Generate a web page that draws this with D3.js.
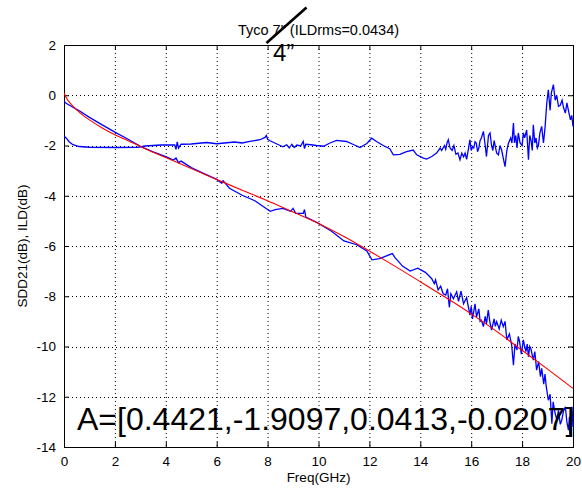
<!DOCTYPE html>
<html><head><meta charset="utf-8">
<script src="https://cdn.jsdelivr.net/npm/d3@7"></script>
<style>
body{margin:0;background:#fff;}
svg{display:block;font-family:"Liberation Sans",Arial,sans-serif;}
</style></head>
<body><svg id="c" width="582" height="488"></svg>
<script>
// ---- data ----
const titleText = 'Tyco 7" (ILDrms=0.0434)';
const overText = '4\u201D';
const fitLabel = 'A=[0.4421,-1.9097,0.0413,-0.0207]';
const xLabel = 'Freq(GHz)';
const yLabel = 'SDD21(dB), ILD(dB)';
const xTicks = [0,2,4,6,8,10,12,14,16,18,20];
const yTicks = [2,0,-2,-4,-6,-8,-10,-12,-14];

const fitFreq = [0,0.1,0.25,0.5,0.75,1,1.5,2,2.5,3,4,5,6,7,8,9,10,11,12,13,14,15,16,17,18,19,20];
const fitVal  = [0.1,-0.12,-0.32,-0.58,-0.8,-0.98,-1.3,-1.57,-1.8,-2.04,-2.48,-2.92,-3.35,-3.78,-4.2,-4.65,-5.1,-5.62,-6.2,-6.8,-7.42,-8.05,-8.7,-9.4,-10.15,-10.9,-11.67];

const sddFreq = [0,0.1,0.3,0.6,1.0,1.5,2.0,2.5,3.0,3.5,4.0,4.3,4.4,4.5,4.6,5.0,5.5,6.0,6.2,6.25,6.5,7.0,7.5,8.0,8.1,8.3,8.6,8.9,9.0,9.1,9.4,9.45,9.5,10.0,10.5,11.0,11.5,11.9,12.1,12.4,12.9,13.0,13.3,13.6,13.9,14.2,14.45,14.55,14.6,14.7,14.8,14.9,15.0,15.07,15.14,15.2,15.3,15.43,15.5,15.6,15.7,15.82,15.95,16.0,16.05,16.1,16.15,16.21,16.3,16.35,16.4,16.48,16.55,16.6,16.67,16.73,16.8,16.9,16.95,17.0,17.1,17.18,17.26,17.33,17.4,17.5,17.59,17.66,17.72,17.8,17.85,17.9,17.97,18.05,18.1,18.15,18.2,18.25,18.3,18.35,18.44,18.5,18.57,18.65,18.72,18.77,18.85,18.9,18.95,19.03,19.1,19.17,19.22,19.3,19.36,19.43,19.5,19.56,19.62,19.7,19.76,19.82,19.86,19.88,19.9,19.96,20.0];
const sddVal  = [-0.25,-0.33,-0.45,-0.62,-0.88,-1.18,-1.47,-1.74,-2.03,-2.25,-2.44,-2.58,-2.5,-2.68,-2.62,-2.88,-3.12,-3.35,-3.5,-3.4,-3.7,-3.98,-4.2,-4.55,-4.62,-4.55,-4.5,-4.62,-4.5,-4.7,-4.7,-4.55,-4.85,-5.1,-5.4,-5.8,-5.95,-6.2,-6.55,-6.5,-6.3,-6.45,-6.8,-7.0,-6.88,-7.05,-7.3,-7.5,-7.35,-7.75,-7.6,-7.9,-7.95,-7.7,-8.44,-7.9,-8.1,-7.82,-8.2,-7.8,-8.3,-8.05,-8.75,-8.4,-8.9,-8.6,-8.3,-8.82,-8.5,-9.0,-8.95,-9.21,-8.8,-9.1,-8.55,-9.0,-9.35,-8.9,-9.2,-9.01,-9.3,-8.95,-9.21,-9.0,-9.74,-9.5,-9.94,-10.74,-9.9,-10.14,-9.6,-9.8,-10.3,-9.74,-10.0,-10.2,-9.9,-10.41,-10.0,-10.1,-10.54,-10.2,-10.94,-10.6,-11.2,-10.87,-11.5,-11.1,-11.6,-12.14,-11.9,-13.07,-12.2,-12.67,-12.9,-12.54,-13.1,-12.93,-12.6,-12.4,-13.0,-13.33,-12.8,-13.5,-12.7,-12.4,-13.2];

const ildFreq = [0,0.1,0.2,0.35,0.6,1.0,2.0,2.9,3.2,3.8,4.35,4.4,4.45,4.5,4.6,5.0,5.6,6.0,6.7,7.0,7.3,7.7,7.9,7.95,8.0,8.08,8.22,8.45,8.6,8.75,8.85,8.95,9.05,9.15,9.3,9.4,9.45,9.5,9.7,9.92,10.2,10.45,10.71,11.1,11.37,11.63,11.9,12.09,12.28,12.54,12.8,12.94,13.2,13.46,13.72,13.86,14.12,14.25,14.45,14.64,14.78,14.84,14.95,15.0,15.05,15.1,15.17,15.25,15.32,15.4,15.48,15.56,15.63,15.7,15.76,15.82,15.88,15.95,16.0,16.05,16.1,16.15,16.2,16.25,16.3,16.35,16.4,16.48,16.55,16.6,16.68,16.74,16.8,16.85,16.9,16.95,17.0,17.07,17.13,17.2,17.26,17.33,17.4,17.46,17.55,17.6,17.66,17.7,17.75,17.8,17.85,17.92,18.0,18.05,18.1,18.18,18.25,18.3,18.35,18.4,18.44,18.5,18.55,18.6,18.64,18.7,18.77,18.84,18.9,18.97,19.03,19.1,19.15,19.23,19.3,19.36,19.43,19.5,19.57,19.63,19.7,19.76,19.82,19.9,19.95,20.0];
const ildVal  = [-1.62,-1.72,-1.85,-1.97,-2.04,-2.07,-2.08,-2.07,-2.02,-1.98,-1.98,-2.15,-1.86,-2.1,-1.95,-1.94,-1.88,-1.93,-1.86,-1.9,-1.84,-1.77,-1.68,-1.6,-1.75,-1.8,-1.87,-1.98,-2.05,-1.97,-2.1,-1.95,-2.08,-1.98,-2.02,-1.84,-2.12,-1.95,-1.97,-2.0,-2.03,-1.9,-1.8,-1.84,-1.96,-2.08,-1.92,-1.71,-1.84,-2.0,-2.13,-2.37,-2.35,-2.24,-2.18,-2.37,-2.5,-2.54,-2.44,-2.3,-2.1,-2.2,-2.0,-2.15,-1.9,-1.77,-2.1,-2.2,-2.0,-2.35,-2.3,-2.57,-2.3,-2.45,-2.3,-2.55,-2.2,-1.77,-2.2,-2.05,-2.1,-1.85,-1.9,-2.25,-2.1,-1.8,-1.7,-1.44,-2.0,-2.44,-1.6,-1.5,-2.0,-2.2,-1.8,-2.05,-2.3,-2.37,-2.0,-2.2,-2.5,-2.84,-2.2,-1.92,-1.7,-1.9,-1.11,-1.9,-1.6,-2.1,-1.5,-1.9,-2.0,-1.5,-1.7,-1.38,-2.57,-1.6,-1.8,-2.2,-1.18,-1.9,-1.7,-2.1,-2.0,-1.5,-1.24,-1.9,-1.3,-0.31,0.22,-0.6,0.1,0.42,-0.2,0.0,-0.44,-0.4,-0.2,-0.5,-0.71,-0.3,-0.6,-0.98,-0.8,-1.24];

// ---- layout ----
const L=64, R=573, T=45, B=447;
const svg=d3.select('#c');
svg.append('rect').attr('width',582).attr('height',488).attr('fill','#fff');
const x=d3.scaleLinear().domain([0,20]).range([L,R]);
const y=d3.scaleLinear().domain([-14,2]).range([B,T]);

// grid
const g=svg.append('g');
g.selectAll('.gx').data(xTicks.slice(1,-1)).enter().append('line')
 .attr('x1',d=>x(d)+0.5).attr('x2',d=>x(d)+0.5).attr('y1',T).attr('y2',B)
 .attr('stroke','#000').attr('stroke-dasharray','1,3');
g.selectAll('.gy').data(yTicks.slice(1,-1)).enter().append('line')
 .attr('y1',d=>Math.round(y(d))+0.5).attr('y2',d=>Math.round(y(d))+0.5).attr('x1',L).attr('x2',R)
 .attr('stroke','#000').attr('stroke-dasharray','1,3');

// axes
const fmt=d=>String(d);
const ax=svg.append('g').attr('transform',`translate(0,${B})`)
 .call(d3.axisBottom(x).tickValues(xTicks).tickSizeInner(-5).tickSizeOuter(0).tickPadding(9).tickFormat(fmt));
const ay=svg.append('g').attr('transform',`translate(${L},0)`)
 .call(d3.axisLeft(y).tickValues(yTicks).tickSizeInner(-5).tickSizeOuter(0).tickPadding(8).tickFormat(fmt));
const at=svg.append('g').attr('transform',`translate(0,${T})`)
 .call(d3.axisTop(x).tickValues(xTicks).tickSizeInner(-5).tickSizeOuter(0).tickFormat(''));
const ar=svg.append('g').attr('transform',`translate(${R},0)`)
 .call(d3.axisRight(y).tickValues(yTicks).tickSizeInner(-5).tickSizeOuter(0).tickFormat(''));
[ax,ay,at,ar].forEach(a=>{a.select('.domain').remove();
 a.selectAll('text').attr('font-size','13.5px').attr('fill','#000').attr('font-family','"Liberation Sans",Arial,sans-serif');
 a.selectAll('line').attr('stroke','#000');});
svg.append('rect').attr('x',L+0.5).attr('y',T+0.5).attr('width',R-L).attr('height',B-T)
 .attr('fill','none').attr('stroke','#000');

// clip
svg.append('clipPath').attr('id','pc').append('rect').attr('x',L).attr('y',T).attr('width',R-L+1).attr('height',B-T);
const pg=svg.append('g').attr('clip-path','url(#pc)');
const line=d3.line().x(d=>x(d[0])).y(d=>y(d[1]));
const sdd=sddFreq.map((f,i)=>[f,sddVal[i]]);
const ild=ildFreq.map((f,i)=>[f,ildVal[i]]);
const fit=fitFreq.map((f,i)=>[f,fitVal[i]]);
pg.append('path').attr('d',line(sdd)).attr('fill','none').attr('stroke','#0000ff').attr('stroke-width',1.3);
pg.append('path').attr('d',line(ild)).attr('fill','none').attr('stroke','#0000ff').attr('stroke-width',1.3);
pg.append('path').attr('d',line.curve(d3.curveMonotoneX)(fit)).attr('fill','none').attr('stroke','#ff0000').attr('stroke-width',1.1);

// texts
svg.append('text').attr('x',(L+R)/2).attr('y',35).attr('text-anchor','middle')
 .attr('font-size','14.5px').attr('fill','#000').text(titleText);
svg.append('line').attr('x1',266.5).attr('y1',43).attr('x2',306.5).attr('y2',7.5)
 .attr('stroke','#000').attr('stroke-width',2.6);
svg.append('text').attr('x',273).attr('y',61).attr('font-size','24px').attr('fill','#000').text(overText);
svg.append('text').attr('x',(L+R)/2).attr('y',482).attr('text-anchor','middle')
 .attr('font-size','13.5px').attr('fill','#000').text(xLabel);
svg.append('text').attr('transform',`translate(27,${(T+B)/2}) rotate(-90)`).attr('text-anchor','middle')
 .attr('font-size','13.5px').attr('fill','#000').text(yLabel);
svg.append('text').attr('x',77).attr('y',430).attr('font-size','32px').attr('fill','#000').text(fitLabel);
</script></body></html>
